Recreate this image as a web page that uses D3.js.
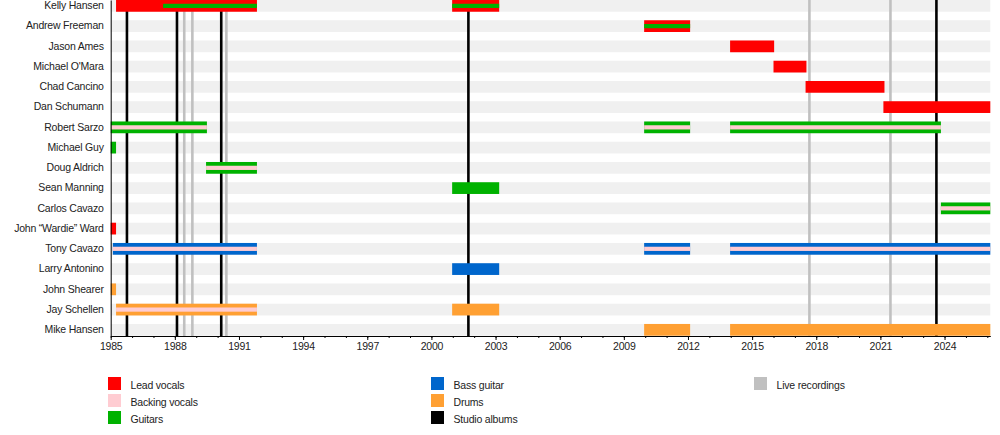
<!DOCTYPE html>
<html>
<head>
<meta charset="utf-8">
<script src="https://cdn.jsdelivr.net/npm/d3@7"></script>
<style>
  body { margin: 0; background: #fff; }
  svg text { font-family: "Liberation Sans", Arial, sans-serif; font-size: 10.5px; letter-spacing: -0.2px; fill: #222; }
</style>
</head>
<body>
<svg id="timeline" width="1000" height="435"></svg>
<script>
// band members, top to bottom
const members = ["Kelly Hansen", "Andrew Freeman", "Jason Ames", "Michael O'Mara", "Chad Cancino",
  "Dan Schumann", "Robert Sarzo", "Michael Guy", "Doug Aldrich", "Sean Manning", "Carlos Cavazo",
  "John \u201cWardie\u201d Ward", "Tony Cavazo", "Larry Antonino", "John Shearer", "Jay Schellen", "Mike Hansen"];

const firstDate = 1985;
const lastDate = 2026.14;
const majorTicks = [1985, 1988, 1991, 1994, 1997, 2000, 2003, 2006, 2009, 2012, 2015, 2018, 2021, 2024];

const roles = ["Lead vocals", "Backing vocals", "Guitars", "Bass guitar", "Drums", "Studio albums", "Live recordings"];
const roleColors = ["#ff0000", "#ffccd2", "#00b200", "#0066cc", "#ffa033", "#000000", "#c0c0c0"];

// main bars: [member, role, from, to]
const mainBars = [
  ["Kelly Hansen", "Lead vocals", 1985.25, 1991.84],
  ["Kelly Hansen", "Lead vocals", 2000.97, 2003.17],
  ["Andrew Freeman", "Lead vocals", 2009.95, 2012.1],
  ["Jason Ames", "Lead vocals", 2013.97, 2016.03],
  ["Michael O'Mara", "Lead vocals", 2016.0, 2017.54],
  ["Chad Cancino", "Lead vocals", 2017.5, 2021.19],
  ["Dan Schumann", "Lead vocals", 2021.14, lastDate],
  ["Robert Sarzo", "Guitars", 1985, 1989.5],
  ["Robert Sarzo", "Guitars", 2009.95, 2012.1],
  ["Robert Sarzo", "Guitars", 2013.97, 2023.83],
  ["Michael Guy", "Guitars", 1985, 1985.25],
  ["Doug Aldrich", "Guitars", 1989.46, 1991.84],
  ["Sean Manning", "Guitars", 2000.97, 2003.17],
  ["Carlos Cavazo", "Guitars", 2023.83, lastDate],
  ["John \u201cWardie\u201d Ward", "Lead vocals", 1985, 1985.25],
  ["Tony Cavazo", "Bass guitar", 1985.1, 1991.84],
  ["Tony Cavazo", "Bass guitar", 2009.95, 2012.1],
  ["Tony Cavazo", "Bass guitar", 2013.97, lastDate],
  ["Larry Antonino", "Bass guitar", 2000.97, 2003.17],
  ["John Shearer", "Drums", 1985, 1985.25],
  ["Jay Schellen", "Drums", 1985.25, 1991.84],
  ["Jay Schellen", "Drums", 2000.97, 2003.17],
  ["Mike Hansen", "Drums", 2009.95, 2012.1],
  ["Mike Hansen", "Drums", 2013.97, lastDate]
];

// secondary roles, drawn as a thin strip inside the main bar
const stripBars = [
  ["Kelly Hansen", "Guitars", 1987.45, 1991.84],
  ["Kelly Hansen", "Guitars", 2000.97, 2003.17],
  ["Andrew Freeman", "Guitars", 2009.95, 2012.1],
  ["Robert Sarzo", "Backing vocals", 1985, 1989.5],
  ["Robert Sarzo", "Backing vocals", 2009.95, 2012.1],
  ["Robert Sarzo", "Backing vocals", 2013.97, 2023.83],
  ["Doug Aldrich", "Backing vocals", 1989.46, 1991.84],
  ["Carlos Cavazo", "Backing vocals", 2023.83, lastDate],
  ["Tony Cavazo", "Backing vocals", 1985.1, 1991.84],
  ["Tony Cavazo", "Backing vocals", 2009.95, 2012.1],
  ["Tony Cavazo", "Backing vocals", 2013.97, lastDate],
  ["Jay Schellen", "Backing vocals", 1985.25, 1991.84]
];

// release dates
const studioAlbums = [1985.76, 1988.10, 1990.17, 2001.73, 2023.62];
const liveRecordings = [1988.44, 1988.82, 1990.41, 2017.68, 2021.47];

document.addEventListener('DOMContentLoaded', function() {
    draw_timeline();
});

function draw_timeline() {
    const svg = d3.select('#timeline');
    const axisY = 336;

    const xScale = d3.scaleLinear()
                     .domain([firstDate, lastDate])
                     .range([110.7, 990.3]);
    const yScale = d3.scaleBand()
                     .domain(members)
                     .range([0, 335.7])
                     .paddingInner(0.42)
                     .paddingOuter(0);
    const color = d3.scaleOrdinal(roles, roleColors);

    // light grey row bands
    svg.append('g').selectAll('rect')
       .data(members)
       .enter()
       .append('rect')
       .attr('x', xScale(firstDate))
       .attr('y', d => yScale(d))
       .attr('width', xScale(lastDate) - xScale(firstDate))
       .attr('height', yScale.bandwidth())
       .attr('fill', '#f0f0f0');

    // release lines, live first then studio on top
    const lines = liveRecordings.map(d => ["Live recordings", d])
                    .concat(studioAlbums.map(d => ["Studio albums", d]));
    svg.append('g').selectAll('line')
       .data(lines)
       .enter()
       .append('line')
       .attr('x1', d => xScale(d[1]))
       .attr('x2', d => xScale(d[1]))
       .attr('y1', 0)
       .attr('y2', axisY)
       .attr('stroke', d => color(d[0]))
       .attr('stroke-width', 2.6);

    svg.append('g').selectAll('rect')
       .data(mainBars)
       .enter()
       .append('rect')
       .attr('x', d => xScale(d[2]))
       .attr('y', d => yScale(d[0]))
       .attr('width', d => xScale(d[3]) - xScale(d[2]))
       .attr('height', yScale.bandwidth())
       .attr('fill', d => color(d[1]));

    const stripH = 4.2;
    svg.append('g').selectAll('rect')
       .data(stripBars)
       .enter()
       .append('rect')
       .attr('x', d => xScale(d[2]))
       .attr('y', d => yScale(d[0]) + (yScale.bandwidth() - stripH) / 2)
       .attr('width', d => xScale(d[3]) - xScale(d[2]))
       .attr('height', stripH)
       .attr('fill', d => color(d[1]));

    // axes
    const gMinor = svg.append('g')
        .attr('transform', `translate(0,${axisY})`)
        .call(d3.axisBottom(xScale)
                .tickValues(d3.range(firstDate, Math.floor(lastDate) + 1))
                .tickSize(2)
                .tickFormat(''));
    gMinor.select('.domain').remove();

    const gX = svg.append('g')
        .attr('transform', `translate(0,${axisY})`)
        .call(d3.axisBottom(xScale)
                .tickValues(majorTicks)
                .tickSizeInner(4)
                .tickSizeOuter(0)
                .tickPadding(3)
                .tickFormat(d3.format('d')));
    svg.selectAll('.tick line').attr('stroke', '#000');
    gX.select('.domain').attr('stroke', '#000');

    const gY = svg.append('g')
        .attr('transform', `translate(${xScale(firstDate)},0)`)
        .call(d3.axisLeft(yScale).tickSize(0).tickSizeOuter(0).tickPadding(7));
    gY.select('.domain').attr('stroke', '#000');

    svg.selectAll('.tick text')
       .attr('font-family', null)
       .attr('font-size', null)
       .attr('fill', null);
    svg.selectAll('g').attr('font-family', null).attr('font-size', null);

    // legend, three rows per column
    const legendCols = [108, 431, 754];
    const legendRows = [377, 394, 411];
    const legend = svg.append('g').selectAll('g')
        .data(roles)
        .enter()
        .append('g')
        .attr('transform', (d, i) => `translate(${legendCols[Math.floor(i / 3)]},${legendRows[i % 3]})`);
    legend.append('rect')
          .attr('width', 13)
          .attr('height', 13)
          .attr('fill', d => color(d));
    legend.append('text')
          .attr('x', 22.5)
          .attr('y', 11.5)
          .text(d => d);
}
</script>
</body>
</html>
